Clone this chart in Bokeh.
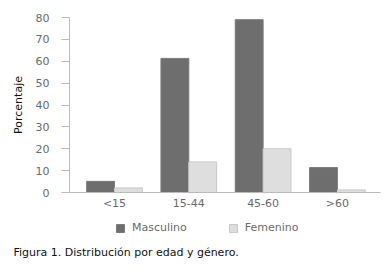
from bokeh.plotting import figure
from bokeh.layouts import column
from bokeh.models import ColumnDataSource, FixedTicker, Legend, LegendItem, Label, Range1d
from bokeh.transform import dodge
from bokeh.embed import file_html
from bokeh.resources import INLINE

categories = ["<15", "15-44", "45-60", ">60"]
masculino = [5.1, 61.3, 79.0, 11.4]
femenino = [2.1, 14.0, 20.0, 1.2]
series_names = ["Masculino", "Femenino"]
caption = "Figura 1. Distribución por edad y género."

M_FILL, M_LINE = "#6e6e6e", "#7a7a7a"
F_FILL, F_LINE = "#dedede", "#c9c9c9"

src = ColumnDataSource(dict(x=list(range(len(categories))), m=masculino, f=femenino))

p = figure(width=383, height=212, output_backend="svg", toolbar_location=None,
           x_range=Range1d(-0.606, 3.58), y_range=Range1d(0, 80))
p.min_border_left = 69
p.min_border_right = 3
p.min_border_top = 17
p.min_border_bottom = 19
p.outline_line_color = None
p.background_fill_color = "white"
p.border_fill_color = "white"
p.frame_align = False

bw = 0.375
p.vbar(x=dodge("x", -bw / 2, range=p.x_range), top="m", width=bw, source=src,
       fill_color=M_FILL, line_color=M_LINE, line_width=1)
p.vbar(x=dodge("x", bw / 2, range=p.x_range), top="f", width=bw, source=src,
       fill_color=F_FILL, line_color=F_LINE, line_width=1)

# x axis
p.xaxis.ticker = FixedTicker(ticks=list(range(len(categories))))
p.xaxis.major_label_overrides = {i: c for i, c in enumerate(categories)}
p.xaxis.major_tick_line_color = None
p.xaxis.major_tick_out = 0
p.xaxis.major_tick_in = 0
p.xaxis.minor_tick_line_color = None
p.xaxis.axis_line_color = "#bbbbbb"
p.xaxis.major_label_text_color = "#6a6a6a"
p.xaxis.major_label_text_font = "DejaVu Sans"
p.xaxis.major_label_text_font_size = "11px"
p.xaxis.major_label_standoff = 4

# y axis
p.yaxis.ticker = FixedTicker(ticks=[0, 10, 20, 30, 40, 50, 60, 70, 80])
p.yaxis.minor_tick_line_color = None
p.yaxis.axis_line_color = "#bbbbbb"
p.yaxis.major_tick_line_color = "#bbbbbb"
p.yaxis.major_tick_out = 8
p.yaxis.major_tick_in = 0
p.yaxis.major_label_text_color = "#6a6a6a"
p.yaxis.major_label_text_font = "DejaVu Sans"
p.yaxis.major_label_text_font_size = "11px"
p.yaxis.major_label_standoff = 12
p.yaxis.axis_label = "Porcentaje"
p.yaxis.axis_label_text_font = "DejaVu Sans"
p.yaxis.axis_label_text_font_style = "normal"
p.yaxis.axis_label_text_font_size = "11px"
p.yaxis.axis_label_text_color = "#111111"
p.yaxis.axis_label_standoff = 8

p.xgrid.grid_line_color = None
p.ygrid.ticker = FixedTicker(ticks=[80])
p.ygrid.grid_line_color = "#bbbbbb"
p.ygrid.grid_line_alpha = 1

# legend + caption strip
p2 = figure(width=383, height=50, output_backend="svg", toolbar_location=None,
            x_range=Range1d(0, 1), y_range=Range1d(1, 2))
p2.min_border_left = 0
p2.min_border_right = 0
p2.min_border_top = 0
p2.min_border_bottom = 0
p2.frame_align = False
p2.axis.visible = False
p2.grid.grid_line_color = None
p2.outline_line_color = None
p2.background_fill_color = "white"
p2.border_fill_color = "white"
dummy = ColumnDataSource(dict(x=[0.5], top=[0.0]))
lm = p2.vbar(x="x", top="top", width=0.1, source=dummy, fill_color=M_FILL, line_color=M_LINE)
lf = p2.vbar(x="x", top="top", width=0.1, source=dummy, fill_color=F_FILL, line_color=F_LINE)

legend = Legend(items=[LegendItem(label=series_names[0], renderers=[lm]),
                       LegendItem(label=series_names[1], renderers=[lf])],
                orientation="horizontal", location=(115, 28),
                label_text_font="DejaVu Sans", label_text_font_size="11px",
                label_text_color="#6a6a6a", glyph_width=10, glyph_height=10,
                label_height=12, label_standoff=7, spacing=41,
                border_line_color=None, background_fill_alpha=0, margin=0, padding=0)
p2.add_layout(legend, "center")

cap = Label(x=13, y=10, x_units="screen", y_units="screen", text=caption,
            text_font="DejaVu Sans", text_font_size="11px",
            text_color="#111111", text_baseline="middle", text_align="left")
p2.add_layout(cap)

layout = column(p, p2, spacing=0)
open("out.html", "w").write(file_html(layout, INLINE))
